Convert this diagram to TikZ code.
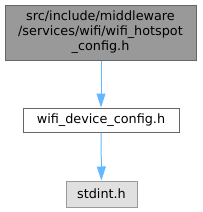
\documentclass[tikz,border=0pt]{standalone}
\usepackage{fontspec}
\setmainfont{DejaVu Sans}
\usetikzlibrary{arrows.meta,positioning}
\definecolor{EdgeBlue}{HTML}{63B8FF}
\definecolor{BoxGray}{HTML}{999999}
\definecolor{BoxLine}{HTML}{666666}
\definecolor{SysGray}{HTML}{E0E0E0}

\begin{document}
\begin{tikzpicture}[x=1pt,y=1pt,
  file/.style={draw=BoxLine,fill=white,align=center,inner sep=2pt,line width=1pt,
               font=\fontsize{12.8}{15}\selectfont},
  current/.style={file,fill=BoxGray,minimum width=191pt,minimum height=55pt},
  header/.style={file,minimum width=156pt,minimum height=24pt},
  sys/.style={file,draw=BoxGray,fill=SysGray,minimum width=71pt,minimum height=26pt},
  dep/.style={-{Triangle[length=14pt,width=9pt]},EdgeBlue,line width=1pt}
]
\useasboundingbox (0,0) rectangle (203,-212);
\node[current] (hotspot) at (100.5,-32.5) {src/include/middleware\\/services/wifi/wifi\_hotspot\\\_config.h};
\node[header] (device) at (101,-120) {wifi\_device\_config.h};
\node[sys] (stdint) at (101.5,-194) {stdint.h};

\draw[dep] (hotspot.south -| device) -- (device);
\draw[dep] (device) -- (stdint);
\end{tikzpicture}
\end{document}
